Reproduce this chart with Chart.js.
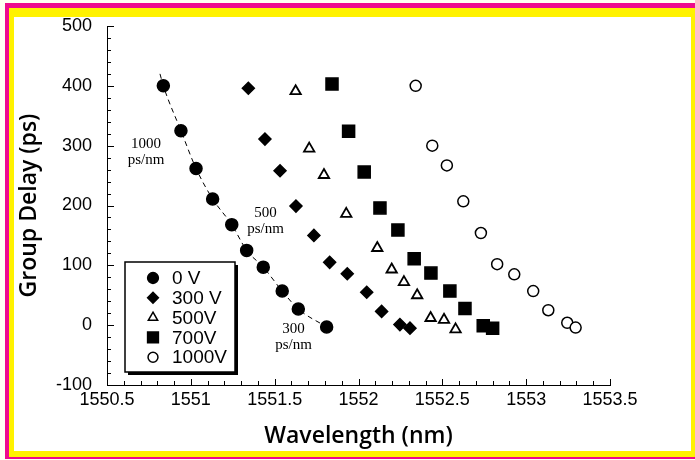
<!DOCTYPE html>
<html>
<head>
<meta charset="utf-8">
<script src="https://cdn.jsdelivr.net/npm/chart.js@4"></script>
<style>
  html, body { margin: 0; padding: 0; width: 695px; height: 460px; overflow: hidden; background: #fffff2; }
  #f1 { position: absolute; left: 5px; top: 3px; width: 700px; height: 456px; background: #ee0a8c; }
  #f2 { position: absolute; left: 9px; top: 8px; width: 700px; height: 449px; background: #fff200; }
  #f3 { position: absolute; left: 14px; top: 17px; width: 677px; height: 434px; background: #fff; }
  canvas { position: absolute; left: 0; top: 0; }
</style>
</head>
<body>
<div id="f1"></div><div id="f2"></div><div id="f3"></div>
<canvas id="chart" width="695" height="460"></canvas>
<script>
// values (wavelength nm, group delay ps)
const v0X = [1550.836, 1550.941, 1551.031, 1551.130, 1551.244, 1551.333, 1551.432, 1551.545, 1551.641, 1551.810];
const v0Y = [400, 325, 262, 211, 168, 125, 97, 57, 27, -3];

const v300X = [1551.343, 1551.442, 1551.532, 1551.627, 1551.734, 1551.828, 1551.933, 1552.049, 1552.138, 1552.247, 1552.307];
const v300Y = [396, 311, 258, 199, 150, 105, 86, 55, 23, 1, -5];

const v500X = [1551.625, 1551.706, 1551.794, 1551.927, 1552.112, 1552.198, 1552.271, 1552.350, 1552.430, 1552.510, 1552.579];
const v500Y = [391, 295, 251, 186, 129, 93, 72, 50, 12, 9, -7];

const v700X = [1551.842, 1551.941, 1552.034, 1552.128, 1552.235, 1552.332, 1552.432, 1552.545, 1552.635, 1552.744, 1552.800];
const v700Y = [403, 324, 256, 196, 159, 111, 87, 57, 28, -1, -5];

const v1000X = [1552.341, 1552.440, 1552.527, 1552.625, 1552.730, 1552.827, 1552.929, 1553.042, 1553.132, 1553.245, 1553.295];
const v1000Y = [400, 300, 267, 207, 154, 102, 85, 57, 25, 4, -4];

// dashed guide curve through the 0 V points
const fitX = [1550.816, 1550.836, 1550.941, 1551.031, 1551.130, 1551.244, 1551.333, 1551.432, 1551.545, 1551.641, 1551.810];
const fitY = [420, 400, 325, 262, 211, 168, 125, 97, 57, 27, -3];

const seriesLabels = ['0 V', '300 V', '500V', '700V', '1000V'];

// slope labels
const noteText = [['1000', 'ps/nm'], ['500', 'ps/nm'], ['300', 'ps/nm']];
const noteX = [1550.733, 1551.446, 1551.613];
const noteY = [290, 174, -20];

const pts = (xs, ys) => xs.map((x, i) => ({ x: x, y: ys[i] }));

const styles = [
  { pointStyle: 'circle', radius: 6, fill: '#000' },
  { pointStyle: 'rectRot', radius: 6, fill: '#000' },
  { pointStyle: 'triangle', radius: 6, fill: '#fff' },
  { pointStyle: 'rect', radius: 8.5, fill: '#000' },
  { pointStyle: 'circle', radius: 5.5, fill: '#fff' }
];

const seriesData = [pts(v0X, v0Y), pts(v300X, v300Y), pts(v500X, v500Y), pts(v700X, v700Y), pts(v1000X, v1000Y)];

const datasets = seriesData.map((d, i) => ({
  label: seriesLabels[i],
  data: d,
  showLine: false,
  pointStyle: styles[i].pointStyle,
  pointRadius: styles[i].radius,
  pointHoverRadius: styles[i].radius,
  pointBackgroundColor: styles[i].fill,
  pointBorderColor: '#000',
  pointBorderWidth: i === 2 ? 1.8 : 1.5,
  order: 1
}));

datasets.push({
  label: 'fit',
  data: pts(fitX, fitY),
  showLine: true,
  borderColor: '#000',
  borderWidth: 1,
  borderDash: [5, 4],
  pointRadius: 0,
  cubicInterpolationMode: 'monotone',
  order: 2
});

const extras = {
  id: 'extras',
  afterDraw(chart) {
    const { ctx, scales: { x, y } } = chart;
    ctx.save();
    // inward tick marks
    ctx.strokeStyle = '#000';
    ctx.lineWidth = 1;
    ctx.beginPath();
    for (let i = 0; i <= 30; i++) {
      const px = Math.round(x.getPixelForValue(x.min + i * 0.1)) + 0.5;
      const len = i % 5 === 0 ? 6 : 4;
      ctx.moveTo(px, y.bottom);
      ctx.lineTo(px, y.bottom - len);
    }
    for (let i = 0; i <= 30; i++) {
      const py = Math.round(y.getPixelForValue(y.min + i * 20)) + 0.5;
      const len = i % 5 === 0 ? 7 : 4;
      ctx.moveTo(x.left, py);
      ctx.lineTo(x.left + len, py);
    }
    ctx.stroke();

    // slope notes
    ctx.fillStyle = '#000';
    ctx.font = '15px "Liberation Serif"';
    ctx.textAlign = 'center';
    ctx.textBaseline = 'middle';
    noteText.forEach((lines, i) => {
      const cx = x.getPixelForValue(noteX[i]);
      const cy = y.getPixelForValue(noteY[i]);
      ctx.fillText(lines[0], cx, cy - 8);
      ctx.fillText(lines[1], cx, cy + 8);
    });

    // legend box
    const bx = 125, by = 262, bw = 110, bh = 110;
    ctx.fillStyle = '#000';
    ctx.fillRect(bx + 3, by + 3, bw, bh);
    ctx.fillStyle = '#fff';
    ctx.fillRect(bx, by, bw, bh);
    ctx.lineWidth = 1.5;
    ctx.strokeRect(bx, by, bw, bh);
    ctx.font = '19px "Liberation Sans"';
    ctx.textAlign = 'left';
    seriesLabels.forEach((lab, i) => {
      const ry = 278 + i * 19.8;
      ctx.fillStyle = styles[i].fill;
      ctx.strokeStyle = '#000';
      ctx.lineWidth = 1.5;
      Chart.helpers.drawPoint(ctx, {
        pointStyle: styles[i].pointStyle,
        radius: styles[i].radius * 0.9,
        borderWidth: 1.5,
        rotation: 0
      }, 153, ry);
      ctx.fillStyle = '#000';
      ctx.fillText(lab, 172, ry + 1);
    });
    ctx.restore();
  }
};

new Chart(document.getElementById('chart'), {
  type: 'scatter',
  data: { datasets: datasets },
  options: {
    responsive: false,
    animation: false,
    devicePixelRatio: 1,
    layout: { padding: { left: 0, top: 26, right: 85, bottom: 0 } },
    plugins: { legend: { display: false }, tooltip: { enabled: false } },
    scales: {
      x: {
        type: 'linear',
        min: 1550.5,
        max: 1553.5,
        afterFit: s => { s.height = 75; },
        grid: { display: false, drawTicks: false },
        border: { display: true, color: '#000', width: 1 },
        ticks: {
          stepSize: 0.5,
          padding: 4,
          color: '#000',
          font: { family: 'Liberation Sans', size: 18 },
          callback: v => String(+v.toFixed(1))
        },
        title: {
          display: true,
          text: 'Wavelength (nm)',
          color: '#000',
          font: { family: 'Open Sans', size: 23, weight: '600' },
          padding: { top: 0, bottom: 10 }
        }
      },
      y: {
        min: -100,
        max: 500,
        afterFit: s => { s.width = 107; },
        grid: { display: false, drawTicks: false },
        border: { display: true, color: '#000', width: 1 },
        ticks: {
          stepSize: 100,
          padding: 15,
          color: '#000',
          font: { family: 'Liberation Sans', size: 18 }
        },
        title: {
          display: true,
          text: 'Group Delay (ps)',
          color: '#000',
          font: { family: 'Open Sans', size: 23, weight: '600' },
          padding: { top: 16, bottom: 0 }
        }
      }
    }
  },
  plugins: [extras]
});
</script>
</body>
</html>
